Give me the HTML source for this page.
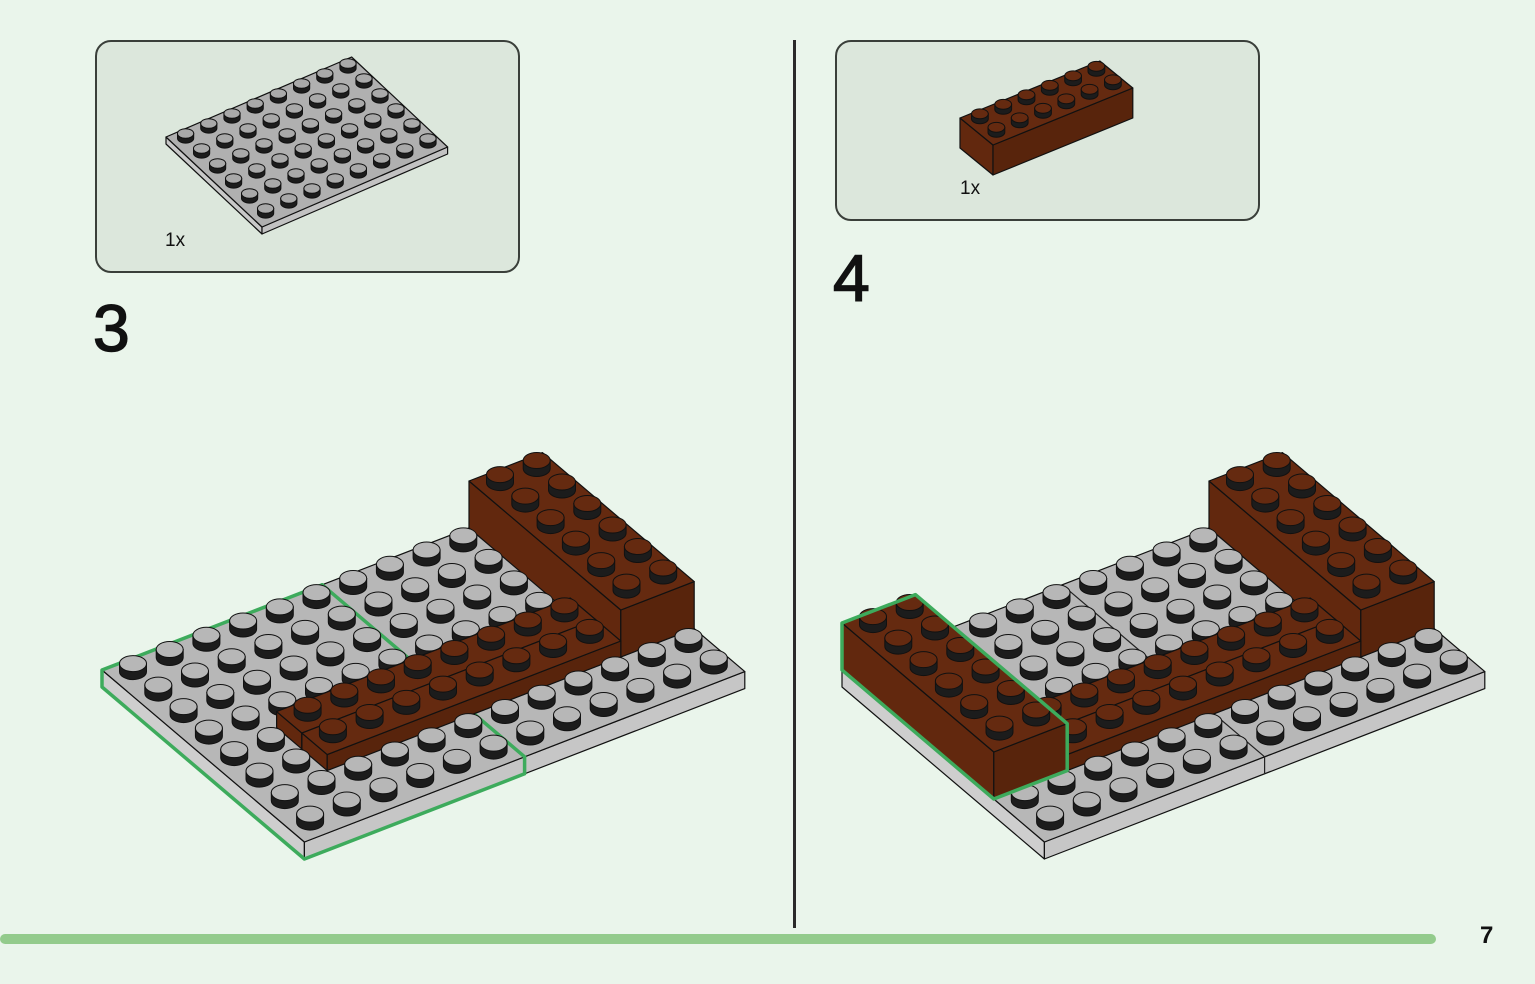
<!DOCTYPE html>
<html><head><meta charset="utf-8">
<style>
html,body{margin:0;padding:0;}
body{width:1535px;height:984px;background:#eaf5eb;position:relative;overflow:hidden;font-family:"Liberation Sans",sans-serif;}
.box{position:absolute;background:#dce7dc;border:2px solid #3a3f3a;border-radius:16px;box-sizing:border-box;}
.lbl{position:absolute;font-size:19px;color:#111;}
.num{position:absolute;font-size:66px;color:#111;line-height:1;-webkit-text-stroke:1.5px #111;}
svg{position:absolute;left:0;top:0;}
</style></head>
<body>
<div class="box" style="left:95px;top:40px;width:425px;height:233px;"></div>
<div class="box" style="left:835px;top:40px;width:425px;height:181px;"></div>
<div style="position:absolute;left:793px;top:40px;width:3px;height:888px;background:#2a2a2a;"></div>
<div style="position:absolute;left:0;top:934px;width:1436px;height:10px;border-radius:5px;background:#93cb8c;"></div>
<svg id="s" width="1535" height="984" viewBox="0 0 1535 984"></svg>
<div class="lbl" style="left:165px;top:230px;">1x</div>
<div class="lbl" style="left:960px;top:178px;">1x</div>
<div class="num" style="left:93px;top:295px;">3</div>
<div class="num" style="left:833px;top:245px;">4</div>
<div style="position:absolute;left:1480px;top:922px;font-size:24px;font-weight:bold;color:#111;">7</div>
<script>
const S=[];
const GT='#b7b7b7',GF='#c6c6c6',GL='#cecece',BT='#652a10',BF='#58240c',BL='#62280e',GREEN='#3dab5c';
function P(o,i,j,z){return [o.O[0]+i*o.u[0]+j*o.v[0], o.O[1]+i*o.u[1]+j*o.v[1]-z];}
function f(p){return p[0].toFixed(1)+','+p[1].toFixed(1);}
function poly(pts,fill,stroke,sw){S.push('<polygon points="'+pts.map(f).join(' ')+'" fill="'+fill+'" stroke="'+(stroke||'#111')+'" stroke-width="'+(sw||1.2)+'" stroke-linejoin="round"/>');}
function pl(pts,stroke,sw){S.push('<polyline points="'+pts.map(f).join(' ')+'" fill="none" stroke="'+stroke+'" stroke-width="'+sw+'" stroke-linejoin="round" stroke-linecap="round"/>');}
function box(o,i0,i1,j0,j1,z0,z1,t,fr,l){
 poly([P(o,i0,j0,z1),P(o,i1,j0,z1),P(o,i1,j0,z0),P(o,i0,j0,z0)],l);
 poly([P(o,i1,j0,z1),P(o,i1,j1,z1),P(o,i1,j1,z0),P(o,i1,j0,z0)],fr);
 poly([P(o,i0,j0,z1),P(o,i1,j0,z1),P(o,i1,j1,z1),P(o,i0,j1,z1)],t);
}
function studs(o,list,z,top,s){
 const cs=list.map(([i,j])=>P(o,i+.5,j+.5,z)).sort((a,b)=>a[1]-b[1]);
 const rx=13.5*s,ry=8*s,h=8*s;
 for(const c of cs){
  const x=c[0],y=c[1]-2*s;
  S.push('<path d="M'+(x-rx).toFixed(1)+','+(y-h).toFixed(1)+' L'+(x-rx).toFixed(1)+','+y.toFixed(1)+' A'+rx+','+ry+' 0 0 0 '+(x+rx).toFixed(1)+','+y.toFixed(1)+' L'+(x+rx).toFixed(1)+','+(y-h).toFixed(1)+' Z" fill="#1c1c1c" stroke="#111" stroke-width="1"/>');
  S.push('<ellipse cx="'+x.toFixed(1)+'" cy="'+(y-h).toFixed(1)+'" rx="'+rx+'" ry="'+ry+'" fill="'+top+'" stroke="#111" stroke-width="1"/>');
 }
}
function grid(i0,i1,j0,j1,ex){const r=[];for(let i=i0;i<i1;i++)for(let j=j0;j<j1;j++){if(!ex||!ex(i,j))r.push([i,j]);}return r;}
const TH=17;
function scene(o,step4){
 box(o,0,8,0,12,-TH,0,GT,GF,GL);
 pl([P(o,0,6,0),P(o,8,6,0),P(o,8,6,-TH)],'#222',1.2);
 pl([P(o,6,6,0),P(o,6,12,0)],'#222',1.2);
 if(!step4){
  pl([P(o,0,6,0),P(o,0,0,0),P(o,0,0,-TH),P(o,8,0,-TH),P(o,8,6,-TH),P(o,8,6,0),P(o,6,6,0)],GREEN,3.5);
  pl([P(o,0,6,0),P(o,4,6,0)],GREEN,3.5);
 }
 box(o,0,6,10,12,0,47,BT,BF,BL);
 studs(o,grid(0,6,10,12),47,BT,1);
 const under=(i,j)=>(i<6&&j>=10)||(i>=4&&i<6&&j>=2&&j<10)||(step4&&i<6&&j<2);
 studs(o,grid(0,4,0,12,under),0,GT,1);
 box(o,4,5,2,10,0,16,BT,BF,BL);
 box(o,5,6,2,10,0,16,BT,BF,BL);
 studs(o,grid(4,6,2,10),16,BT,1);
 studs(o,grid(4,8,0,12,under),0,GT,1);
 if(step4){
  box(o,0,6,0,2,0,47,BT,BF,BL);
  studs(o,grid(0,6,0,2),47,BT,1);
  poly([P(o,0,2,47),P(o,0,0,47),P(o,0,0,0),P(o,6,0,0),P(o,6,2,0),P(o,6,2,47)],'none',GREEN,3.5);
 }
}
scene({O:[102,670],u:[25.3,21.5],v:[36.7,-14.2]},false);
scene({O:[842,670],u:[25.3,21.5],v:[36.7,-14.2]},true);
const p1={O:[166,137],u:[16,15],v:[23.2,-10]};
box(p1,0,6,0,8,-7,0,'#b0b0b0','#c2c2c2','#c8c8c8');
studs(p1,grid(0,6,0,8),0,'#a9a9a9',0.6);
const p2={O:[960,148],u:[16.5,13.5],v:[23.3,-9.5]};
box(p2,0,2,0,6,0,30,BT,BF,BL);
studs(p2,grid(0,2,0,6),30,BT,0.62);
document.getElementById('s').innerHTML=S.join('');
</script>
</body></html>
